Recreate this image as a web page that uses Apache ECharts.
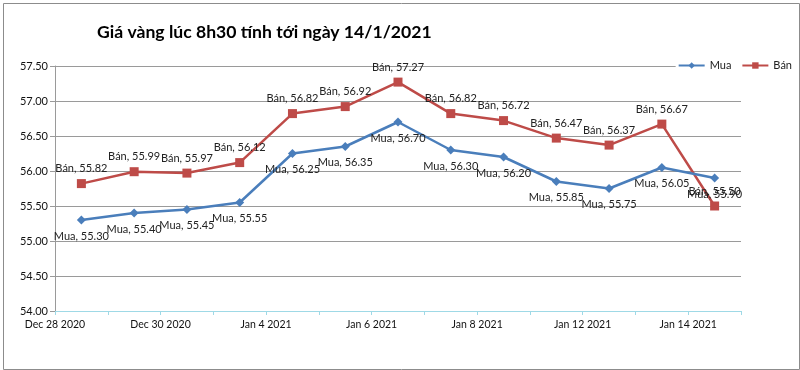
<!DOCTYPE html>
<html>
<head>
<meta charset="utf-8">
<script src="https://cdn.jsdelivr.net/npm/echarts@6/dist/echarts.min.js"></script>
<style>
html,body{margin:0;padding:0;background:#fff;}
#chart{width:800px;height:370px;}
</style>
</head>
<body>
<div id="chart"></div>
<script>
const titleText = 'Giá vàng lúc 8h30 tính tới ngày 14/1/2021';
const dates = ['Dec 28 2020','Dec 29 2020','Dec 30 2020','Dec 31 2020','Jan 4 2021','Jan 5 2021','Jan 6 2021','Jan 7 2021','Jan 8 2021','Jan 11 2021','Jan 12 2021','Jan 13 2021','Jan 14 2021'];
const muaName = 'Mua';
const banName = 'Bán';
const mua = [55.30, 55.40, 55.45, 55.55, 56.25, 56.35, 56.70, 56.30, 56.20, 55.85, 55.75, 56.05, 55.90];
const ban = [55.82, 55.99, 55.97, 56.12, 56.82, 56.92, 57.27, 56.82, 56.72, 56.47, 56.37, 56.67, 55.50];

const FONT = 'Lato';
const chart = echarts.init(document.getElementById('chart'), null, {renderer:'canvas'});
function toPts(arr){ return arr.map((v,i)=>[i+0.5, v]); }
const lbl = p => p.seriesName + ', ' + p.value[1].toFixed(2);

chart.setOption({
  animation:false,
  textStyle:{fontFamily:FONT},
  title:{
    text:titleText, left:92, top:18,
    textStyle:{fontFamily:FONT, fontWeight:'bold', fontSize:17.6, color:'#000'}
  },
  graphic:[{
    type:'rect', left:1, top:1, shape:{x:0,y:0,width:796,height:366},
    style:{fill:'none', stroke:'#8c8c8c', lineWidth:1}, silent:true, z:-1
  }],
  legend:{
    right:6, top:58, itemGap:10, itemWidth:26, itemHeight:8,
    backgroundColor:'#fff', padding:[2,2,2,2],
    textStyle:{fontFamily:FONT, fontSize:11, color:'#222'},
    data:[muaName, banName]
  },
  grid:{left:55, right:59, top:66, bottom:59, containLabel:false},
  xAxis:{
    type:'value', min:0, max:13, interval:1,
    axisLine:{show:true, lineStyle:{color:'#9fd9e6', width:1}},
    axisTick:{show:true, length:4, lineStyle:{color:'#9fd9e6'}},
    splitLine:{show:false},
    axisLabel:{
      fontFamily:FONT, fontSize:10.5, color:'#111', margin:8,
      formatter: v => (v%2===0 && v<dates.length) ? dates[v] : '',
      showMaxLabel:true
    }
  },
  yAxis:{
    type:'value', min:54, max:57.5, interval:0.5,
    axisLine:{show:true, lineStyle:{color:'#9a9a9a'}},
    axisTick:{show:true, length:5, lineStyle:{color:'#9a9a9a'}},
    splitLine:{show:true, lineStyle:{color:'#9a9a9a', width:1}},
    axisLabel:{fontFamily:FONT, fontSize:11, color:'#111', margin:7,
      formatter: v => v.toFixed(2)}
  },
  series:[
    {
      name:muaName, type:'line', data:toPts(mua),
      symbol:'diamond', symbolSize:9,
      lineStyle:{color:'#4a7ebb', width:2.5},
      itemStyle:{color:'#4a7ebb'},
      label:{show:true, position:'bottom', distance:6, formatter:lbl,
        fontFamily:FONT, fontSize:11, color:'#222'},
      z:3
    },
    {
      name:banName, type:'line', data:toPts(ban),
      symbol:'rect', symbolSize:9,
      lineStyle:{color:'#be4b48', width:2.5},
      itemStyle:{color:'#be4b48'},
      label:{show:true, position:'top', distance:5, formatter:lbl,
        fontFamily:FONT, fontSize:11, color:'#222'},
      z:2
    }
  ]
});
</script>
</body>
</html>
